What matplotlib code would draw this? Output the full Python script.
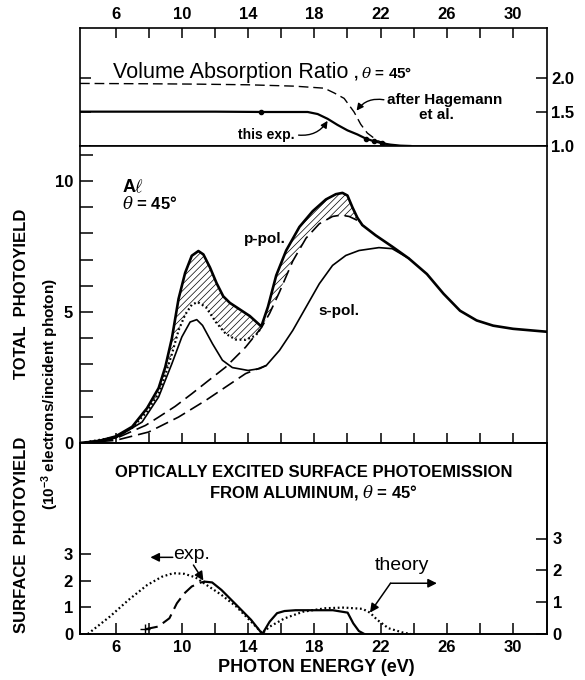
import numpy as np
import matplotlib
matplotlib.use('Agg')
import matplotlib.pyplot as plt

plt.rcParams['font.family'] = ['Liberation Sans', 'DejaVu Sans']
plt.rcParams['font.weight'] = 'bold'
plt.rcParams['hatch.linewidth'] = 0.5
plt.rcParams['mathtext.fontset'] = 'custom'
plt.rcParams['mathtext.it'] = 'DejaVu Serif:style=italic:weight=normal'
plt.rcParams['mathtext.rm'] = 'Liberation Sans:weight=bold'
plt.rcParams['mathtext.bf'] = 'Liberation Sans:weight=bold'

# --- volume absorption ratio (top panel)
ratio_exp_e = [3.85, 8, 12, 15, 17.6, 18.2, 18.8, 19.4, 20.0, 20.6, 21.1, 21.6, 22.1, 22.6, 23.2, 23.8]
ratio_exp = [1.505, 1.505, 1.505, 1.50, 1.50, 1.47, 1.40, 1.31, 1.23, 1.17, 1.11, 1.07, 1.04, 1.02, 1.005, 1.0]
ratio_pts_e = [14.8, 21.1, 21.6, 22.1]
ratio_pts = [1.50, 1.11, 1.07, 1.04]
ratio_hag_e = [3.85, 8, 10.8, 14, 16.8, 18.6, 19.2, 19.8, 20.4, 20.8, 21.2, 21.8, 22.6, 23.4]
ratio_hag = [1.92, 1.915, 1.91, 1.90, 1.88, 1.85, 1.78, 1.70, 1.50, 1.32, 1.19, 1.08, 1.01, 1.0]

# --- total photoyield (middle panel)
p_e = [3.9, 5.0, 6.0, 7.0, 7.9, 8.6, 9.0, 9.4, 9.8, 10.2, 10.6, 11.0, 11.3, 11.7, 12.1, 12.5,
       12.9, 13.5, 14.1, 14.8, 15.2, 15.7, 16.3, 17.1, 17.9, 18.7, 19.3, 19.7, 20.0, 20.3,
       20.6, 20.9, 21.7, 22.7, 23.7, 24.8, 25.8, 26.8, 27.8, 28.8, 30.0, 32.0]
p_pol = [0, 0.08, 0.25, 0.62, 1.33, 2.1, 2.9, 4.0, 5.5, 6.5, 7.15, 7.33, 7.2, 6.7, 6.1, 5.6,
         5.35, 5.1, 4.85, 4.45, 5.2, 6.4, 7.35, 8.25, 8.85, 9.3, 9.5, 9.55, 9.45, 9.0,
         8.6, 8.32, 7.93, 7.5, 7.05, 6.45, 5.7, 5.05, 4.68, 4.48, 4.36, 4.25]
s_e = [3.9, 6.0, 7.6, 8.6, 9.4, 10.0, 10.5, 10.9, 11.25, 11.85, 12.45, 13.05, 14.0, 14.7,
       15.1, 15.9, 16.7, 17.5, 18.3, 19.1, 19.9, 20.7, 21.9, 22.7, 23.7]
s_pol = [0, 0.19, 0.8, 1.76, 3.03, 4.05, 4.62, 4.71, 4.49, 3.79, 3.16, 2.88, 2.77, 2.84,
         2.96, 3.54, 4.3, 5.19, 6.08, 6.78, 7.16, 7.35, 7.46, 7.42, 7.05]
dot_e = [3.9, 6.0, 7.0, 7.9, 8.6, 9.0, 9.4, 9.8, 10.2, 10.6, 10.95, 11.45, 12.05, 12.65,
         13.25, 13.85, 14.45, 14.8]
dot_y = [0, 0.22, 0.58, 1.2, 1.9, 2.6, 3.4, 4.3, 4.9, 5.28, 5.38, 5.19, 4.62, 4.17,
         3.95, 3.94, 4.1, 4.4]
dp_e = [3.9, 5.0, 6.0, 7.0, 7.8, 8.6, 9.6, 10.6, 11.6, 12.65, 13.85, 14.8, 15.3, 15.9,
        16.7, 17.5, 18.3, 19.1, 19.6, 20.1, 20.6, 20.9]
dp_y = [0, 0.06, 0.17, 0.45, 0.67, 0.99, 1.4, 1.88, 2.38, 2.9, 3.66, 4.4, 4.95, 5.77,
        6.95, 7.82, 8.37, 8.65, 8.7, 8.65, 8.5, 8.32]
ds_e = [3.9, 6.0, 8.0, 9.8, 11.45, 12.65, 13.85, 15.1]
ds_y = [0, 0.1, 0.42, 0.99, 1.63, 2.14, 2.65, 2.96]

# --- surface photoyield (bottom panel)
exp_dash_e = [7.8, 8.58, 9.25, 9.70, 10.15, 10.6, 11.16, 11.38]
exp_dash = [0.18, 0.28, 0.59, 1.15, 1.52, 1.78, 1.93, 1.96]
exp_e = [11.38, 11.83, 12.39, 13.29, 14.18, 14.86, 15.3, 15.75, 16.2, 16.87, 19.12,
         20.01, 20.35, 20.69, 21.02]
exp_y = [1.96, 1.93, 1.65, 1.09, 0.53, 0.0, 0.46, 0.78, 0.86, 0.89, 0.89,
         0.8, 0.4, 0.11, 0.0]
th_e = [4.32, 5.66, 6.78, 7.91, 8.80, 9.48, 10.15, 10.82, 11.49, 12.39, 13.29, 14.18,
        14.86, 15.30, 16.20, 17.32, 18.67, 19.79, 20.91, 21.36, 21.81, 22.48, 23.38, 23.83]
th_y = [0, 0.55, 1.07, 1.54, 1.80, 1.91, 1.89, 1.78, 1.54, 1.23, 0.86, 0.39,
        0.02, 0.23, 0.49, 0.70, 0.81, 0.83, 0.79, 0.67, 0.44, 0.18, 0.04, 0]

xt_major = [6, 10, 14, 18, 22, 26, 30]
xt_minor = [8, 12, 16, 20, 24, 28]

fig = plt.figure(figsize=(5.85, 6.8), dpi=100)
L, W = 80 / 585, 467 / 585
ax1 = fig.add_axes([L, 1 - 146 / 680, W, 118 / 680])
ax2 = fig.add_axes([L, 1 - 443 / 680, W, 297 / 680])
ax3 = fig.add_axes([L, 1 - 634 / 680, W, 191 / 680])
ax3r = ax3.twinx()

for ax in (ax1, ax2, ax3, ax3r):
    ax.set_xlim(3.85, 32.05)
    for s in ax.spines.values():
        s.set_linewidth(1.2)

# top panel
ax1.set_ylim(1.0, 2.735)
ax1.xaxis.tick_top()
ax1.set_xticks(xt_major)
ax1.set_xticks(xt_minor, minor=True)
ax1.tick_params(axis='x', which='both', direction='in', length=7, width=1.1,
                labelsize=12, pad=4, bottom=False, top=True)
ax1.set_yticks([1.0, 1.5, 2.0])
ax1.set_yticklabels(['1.0', '1.5', '2.0'])
ax1.tick_params(axis='y', direction='in', length=8, width=1.1, left=True, right=True,
                labelleft=False, labelright=True, labelsize=12, pad=3)
ax1.plot(ratio_exp_e, ratio_exp, color='black', lw=1.6)
ax1.plot(ratio_pts_e, ratio_pts, 'o', color='black', ms=3)
ax1.plot(ratio_hag_e, ratio_hag, color='black', lw=1.0, dashes=(7, 3.5))
ax1.text(5.82, 2.0, 'Volume Absorption Ratio', fontsize=15.5, fontweight='normal',
         va='baseline')
ax1.text(20.35, 2.0, r', $\theta$ = 45°', fontsize=11, va='baseline')
ax1.text(15.1, 1.16, 'this exp.', fontsize=10, ha='center', va='center')
ax1.annotate('', xy=(18.8, 1.37), xytext=(17.05, 1.16),
             arrowprops=dict(arrowstyle='-|>', color='black', lw=1.0, mutation_scale=10,
                             connectionstyle='arc3,rad=0.3', shrinkA=0, shrinkB=0))
ax1.text(25.9, 1.68, 'after Hagemann', fontsize=11, ha='center', va='center')
ax1.text(25.4, 1.46, 'et al.', fontsize=11, ha='center', va='center')
ax1.annotate('', xy=(20.55, 1.52), xytext=(22.2, 1.68),
             arrowprops=dict(arrowstyle='-|>', color='black', lw=1.0, mutation_scale=10,
                             connectionstyle='arc3,rad=0.3', shrinkA=0, shrinkB=0))

# middle panel
ax2.set_ylim(0, 11.34)
ax2.set_yticks([0, 5, 10])
ax2.set_yticks(range(0, 12), minor=True)
ax2.tick_params(axis='y', which='both', direction='in', length=9, width=1.1,
                labelsize=12, pad=5, right=False)
ax2.set_xticks(xt_major + xt_minor)
ax2.tick_params(axis='x', direction='inout', length=14, width=1.1, labelbottom=False,
                top=False)
grid = np.linspace(8.3, 20.9, 400)
upper = np.interp(grid, p_e, p_pol)
low_e = dot_e[:-1] + dp_e[11:]
low_y = dot_y[:-1] + dp_y[11:]
lower = np.interp(grid, low_e, low_y)
ax2.fill_between(grid, lower, upper, facecolor='none', edgecolor='black', hatch='/////',
                 linewidth=0)
ax2.plot(dp_e, dp_y, color='black', lw=1.2, dashes=(8, 3.6))
ax2.plot(ds_e, ds_y, color='black', lw=1.2, dashes=(8, 3.6))
ax2.plot(dot_e, dot_y, color='black', lw=1.6, linestyle=(0, (0.8, 1.2)))
ax2.plot(s_e, s_pol, color='black', lw=1.2)
ax2.plot(p_e, p_pol, color='black', lw=1.9)
ax2.text(6.36, 9.77, r'A$\ell$', fontsize=13, va='center')
ax2.text(6.36, 9.16, r'$\theta$ = 45°', fontsize=12, va='center')
ax2.text(13.76, 7.79, 'p-pol.', fontsize=11, va='center')
ax2.text(18.27, 5.04, 's-pol.', fontsize=11, va='center')

# bottom panel
ax3.set_ylim(0, 7.15)
ax3r.set_ylim(0, 6.0)
ax3.set_xticks(xt_major)
ax3.set_xticks(xt_minor, minor=True)
ax3.tick_params(axis='x', which='both', direction='in', length=8, width=1.1,
                labelsize=12, pad=4)
ax3.set_yticks([0, 1, 2, 3])
ax3.tick_params(axis='y', direction='in', length=8, width=1.1, labelsize=12, pad=5)
ax3r.set_yticks([0, 1, 2, 3])
ax3r.tick_params(axis='y', direction='in', length=8, width=1.1, labelsize=12, pad=4)
ax3.plot(exp_dash_e, exp_dash, color='black', lw=1.5, dashes=(6, 3))
ax3.plot(exp_dash_e[:1], exp_dash[:1], '+', color='black', ms=7, mew=1.0)
ax3.plot(exp_e, exp_y, color='black', lw=1.6)
ax3r.plot(th_e, th_y, color='black', lw=1.6, linestyle=(0, (0.8, 1.2)))
ax3.text(0.5, 0.843, 'OPTICALLY EXCITED SURFACE PHOTOEMISSION', transform=ax3.transAxes,
         fontsize=12, ha='center', va='center')
ax3.text(0.5, 0.743, r'FROM ALUMINUM, $\theta$ = 45°', transform=ax3.transAxes,
         fontsize=12, ha='center', va='center')
arrow = dict(arrowstyle='-|>', color='black', lw=1.1, mutation_scale=13, shrinkA=0, shrinkB=0)
ax3.text(10.6, 2.96, 'exp.', fontsize=14, fontweight='normal', ha='center', va='center')
ax3.annotate('', xy=(8.1, 2.87), xytext=(9.45, 2.87), arrowprops=arrow)
ax3.annotate('', xy=(11.3, 2.0), xytext=(10.7, 2.58), arrowprops=arrow)
ax3.text(23.3, 2.55, 'theory', fontsize=14, fontweight='normal', ha='center', va='center')
ax3.annotate('', xy=(25.4, 1.90), xytext=(22.6, 1.90), arrowprops=arrow)
ax3.annotate('', xy=(21.36, 0.80), xytext=(22.6, 1.90), arrowprops=arrow)

# axis titles
fig.text(22 / 585, 1 - 294 / 680, 'TOTAL  PHOTOYIELD', rotation=90, fontsize=12,
         ha='center', va='center')
fig.text(22 / 585, 1 - 535 / 680, 'SURFACE  PHOTOYIELD', rotation=90, fontsize=12,
         ha='center', va='center')
fig.text(50 / 585, 1 - 394 / 680, r'(10$^{\mathrm{-3}}$ electrons/incident photon)',
         rotation=90, fontsize=11, ha='center', va='center')
fig.text(316 / 585, 1 - 668 / 680, 'PHOTON ENERGY (eV)', fontsize=13, ha='center',
         va='center')

fig.savefig('out.png', dpi=100)
